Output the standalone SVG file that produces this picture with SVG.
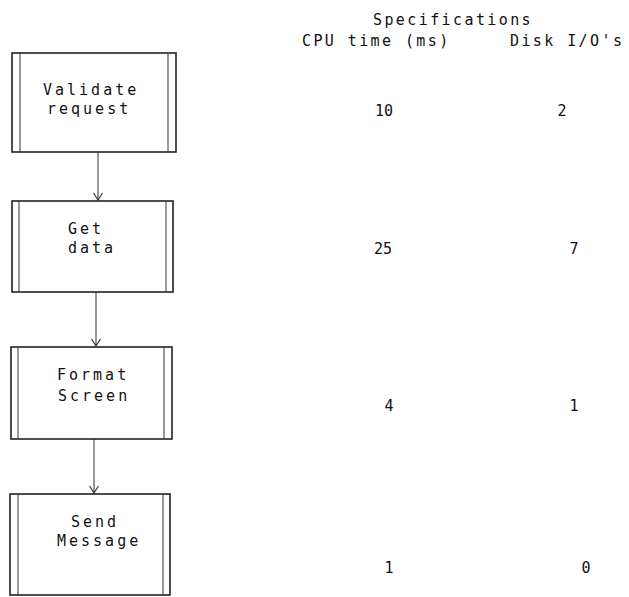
<svg xmlns="http://www.w3.org/2000/svg" width="629" height="597" viewBox="0 0 629 597">
<defs>
<style>
.box{fill:#fff;stroke:#222;stroke-width:1.6}
.bar{stroke:#333;stroke-width:1;fill:none}
.t{font-family:"DejaVu Sans Mono","Liberation Mono",monospace;font-size:15px;fill:#111;letter-spacing:3px}
.h{font-family:"DejaVu Sans Mono","Liberation Mono",monospace;font-size:15px;fill:#111;letter-spacing:2.4px}
.n{font-family:"DejaVu Sans Mono","Liberation Mono",monospace;font-size:15px;fill:#111;text-anchor:middle}
.c{stroke:#333;stroke-width:1;fill:none}
</style>
<marker id="v" viewBox="0 0 10 10" refX="9" refY="5" markerWidth="10" markerHeight="10" markerUnits="userSpaceOnUse" orient="auto">
<path d="M2,0.5 L9,5 L2,9.5" fill="none" stroke="#333" stroke-width="1.2"/>
</marker>
</defs>
<rect width="629" height="597" fill="#fff"/>
<g id="header">
<text class="h" x="373" y="25">Specifications</text>
<text class="h" x="302" y="46">CPU time (ms)</text>
<text class="h" x="510" y="46">Disk I/O's</text>
</g>
<g id="connectors">
<line class="c" x1="98" y1="152" x2="98" y2="200" marker-end="url(#v)"/>
<line class="c" x1="96" y1="292" x2="96" y2="346" marker-end="url(#v)"/>
<line class="c" x1="94" y1="439" x2="94" y2="493" marker-end="url(#v)"/>
</g>
<g id="validate">
<rect class="box" x="12" y="53" width="164" height="99"/>
<line class="bar" x1="20" y1="53" x2="20" y2="152"/>
<line class="bar" x1="168" y1="53" x2="168" y2="152"/>
<text class="t" x="43" y="95">Validate</text>
<text class="t" x="47" y="114">request</text>
</g>
<g id="getdata">
<rect class="box" x="12" y="201" width="161" height="91"/>
<line class="bar" x1="19" y1="201" x2="19" y2="292"/>
<line class="bar" x1="166" y1="201" x2="166" y2="292"/>
<text class="t" x="68" y="234">Get</text>
<text class="t" x="68" y="253">data</text>
</g>
<g id="format">
<rect class="box" x="11" y="347" width="161" height="92"/>
<line class="bar" x1="18" y1="347" x2="18" y2="439"/>
<line class="bar" x1="164" y1="347" x2="164" y2="439"/>
<text class="t" x="57" y="380">Format</text>
<text class="t" x="58" y="401">Screen</text>
</g>
<g id="send">
<rect class="box" x="10" y="494" width="160" height="101"/>
<line class="bar" x1="18" y1="494" x2="18" y2="595"/>
<line class="bar" x1="163" y1="494" x2="163" y2="595"/>
<text class="t" x="71" y="527">Send</text>
<text class="t" x="57" y="546">Message</text>
</g>
<g id="values">
<text class="n" x="384" y="116">10</text>
<text class="n" x="562" y="116">2</text>
<text class="n" x="383" y="254">25</text>
<text class="n" x="574" y="254">7</text>
<text class="n" x="389" y="411">4</text>
<text class="n" x="574" y="411">1</text>
<text class="n" x="389" y="573">1</text>
<text class="n" x="586" y="573">0</text>
</g>
</svg>
